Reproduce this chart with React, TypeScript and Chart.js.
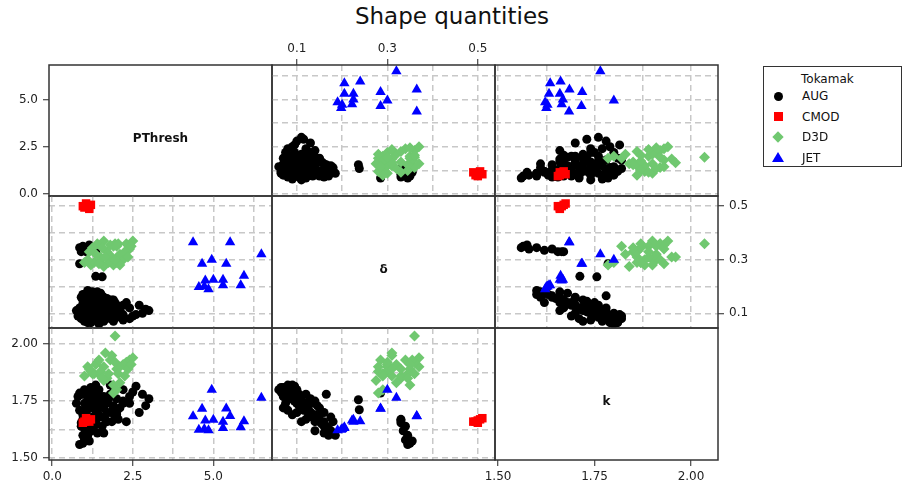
import { useEffect, useRef } from "react";
import { Chart, registerables } from "chart.js";

Chart.register(...registerables);

const TITLE = "Shape quantities";
const LEGEND_TITLE = "Tokamak";
const VARIABLE_NAMES = ["PThresh", "δ", "k"];

// ASDEX Upgrade
const AUG_PTHRESH = [
  1.0, 1.2, 0.9, 1.4, 1.6, 1.8, 2.0, 2.2, 2.5, 2.8,
  3.0, 2.9, 2.6, 2.4, 2.7, 2.3, 1.1, 1.3, 1.5, 1.7,
  1.9, 2.1, 1.0, 1.2, 1.4, 1.6, 1.8, 2.0, 0.85, 1.05,
  1.25, 1.45, 1.65, 1.85, 0.95, 1.15, 1.35, 1.55, 1.0, 1.2,
  1.4, 1.1, 0.9, 1.3, 1.5, 1.75, 0.8, 0.75, 2.2, 1.95,
  1.1, 1.35, 1.9, 2.4, 1.3, 1.7, 2.05, 1.25, 0.95, 1.45,
  1.2, 1.5, 1.0, 1.8, 1.4, 1.1, 1.6, 1.3, 1.9, 1.05,
  1.5, 1.25, 0.95, 1.7, 2.0, 1.35, 1.15, 1.6, 2.2, 0.9,
  0.85, 0.95, 1.0, 1.1, 1.2, 1.3, 0.9, 1.05, 1.15, 1.35,
  0.85, 1.35, 1.55,
];
const AUG_DELTA = [
  0.07, 0.065, 0.08, 0.075, 0.07, 0.08, 0.085, 0.075, 0.09, 0.1,
  0.11, 0.115, 0.095, 0.12, 0.13, 0.14, 0.09, 0.095, 0.085, 0.1,
  0.105, 0.11, 0.1, 0.11, 0.115, 0.12, 0.125, 0.13, 0.12, 0.13,
  0.135, 0.14, 0.145, 0.15, 0.15, 0.155, 0.16, 0.165, 0.17, 0.175,
  0.18, 0.185, 0.16, 0.125, 0.105, 0.09, 0.09, 0.11, 0.095, 0.14,
  0.065, 0.08, 0.07, 0.08, 0.165, 0.155, 0.12, 0.145, 0.135, 0.06,
  0.07, 0.075, 0.08, 0.09, 0.1, 0.12, 0.13, 0.14, 0.15, 0.16,
  0.175, 0.18, 0.17, 0.11, 0.1, 0.09, 0.14, 0.16, 0.13, 0.105,
  0.345, 0.35, 0.34, 0.345, 0.335, 0.34, 0.33, 0.33, 0.355, 0.33,
  0.285, 0.238, 0.236,
];
const AUG_KAPPA = [
  1.8, 1.81, 1.78, 1.79, 1.77, 1.78, 1.76, 1.8, 1.79, 1.78,
  1.76, 1.73, 1.815, 1.74, 1.7, 1.66, 1.76, 1.75, 1.77, 1.74,
  1.73, 1.72, 1.74, 1.73, 1.71, 1.72, 1.7, 1.69, 1.71, 1.7,
  1.68, 1.69, 1.67, 1.66, 1.67, 1.65, 1.66, 1.64, 1.63, 1.62,
  1.61, 1.6, 1.64, 1.72, 1.75, 1.76, 1.77, 1.74, 1.75, 1.68,
  1.79, 1.82, 1.81, 1.77, 1.78, 1.7, 1.67, 1.73, 1.69, 1.8,
  1.72, 1.74, 1.71, 1.82, 1.8, 1.78, 1.76, 1.75, 1.72, 1.7,
  1.68, 1.66, 1.6, 1.66, 1.7, 1.69, 1.62, 1.61, 1.74, 1.78,
  1.56, 1.565, 1.58, 1.6, 1.62, 1.64, 1.655, 1.665, 1.575, 1.67,
  1.785, 1.712, 1.756,
];

// Alcator C-Mod
const CMOD_PTHRESH = [1.0, 1.1, 1.2, 1.05, 0.95, 1.15];
const CMOD_DELTA = [0.495, 0.5, 0.505, 0.51, 0.5, 0.49];
const CMOD_KAPPA = [1.66, 1.665, 1.67, 1.675, 1.655, 1.66];

// DIII-D
const D3D_PTHRESH = [
  1.95, 1.2, 1.3, 1.1, 1.5, 1.7, 1.9, 2.0, 1.9, 2.1,
  2.3, 2.4, 2.5, 2.2, 1.6, 1.4, 1.8, 2.0, 1.5, 1.75,
  1.6, 1.35, 2.25, 1.85, 2.1, 1.25, 1.65, 2.35, 1.0, 1.45,
  2.45, 1.15, 2.05, 1.55, 1.95,
];
const D3D_DELTA = [
  0.36, 0.28, 0.29, 0.3, 0.31, 0.33, 0.35, 0.29, 0.28, 0.32,
  0.36, 0.34, 0.37, 0.3, 0.37, 0.36, 0.355, 0.35, 0.3, 0.29,
  0.275, 0.32, 0.33, 0.31, 0.28, 0.345, 0.31, 0.31, 0.29, 0.285,
  0.35, 0.33, 0.36, 0.345, 0.3,
];
const D3D_KAPPA = [
  2.035, 1.88, 1.87, 1.9, 1.86, 1.85, 1.82, 1.8, 1.785, 1.83,
  1.92, 1.93, 1.94, 1.91, 1.9, 1.92, 1.93, 1.89, 1.88, 1.87,
  1.84, 1.91, 1.86, 1.95, 1.9, 1.87, 1.96, 1.89, 1.86, 1.93,
  1.91, 1.89, 1.87, 1.85, 1.92,
];

// JET
const JET_PTHRESH = [6.49, 4.37, 5.52, 4.95, 5.4, 4.65, 5.95, 5.85, 5.3, 5.3, 5.0, 4.85, 4.72, 4.75, 4.55];
const JET_DELTA = [0.32, 0.365, 0.365, 0.3, 0.285, 0.285, 0.24, 0.205, 0.225, 0.205, 0.225, 0.19, 0.2, 0.222, 0.198];
const JET_KAPPA = [1.765, 1.684, 1.685, 1.8, 1.718, 1.716, 1.662, 1.635, 1.66, 1.632, 1.668, 1.622, 1.628, 1.665, 1.625];

// Axis ranges, grid positions and labelled ticks for each variable
const PTHRESH_RANGE = [-0.1, 6.82];
const PTHRESH_GRID = [0, 1.25, 2.5, 3.75, 5, 6.25];
const PTHRESH_TICKS = [0, 2.5, 5];
const DELTA_RANGE = [0.045, 0.538];
const DELTA_GRID = [0.1, 0.2, 0.3, 0.4, 0.5];
const DELTA_TICKS = [0.1, 0.3, 0.5];
const KAPPA_RANGE = [1.492, 2.07];
const KAPPA_GRID = [1.5, 1.625, 1.75, 1.875, 2.0];
const KAPPA_TICKS = [1.5, 1.75, 2.0];

const AXES = [
  { min: PTHRESH_RANGE[0], max: PTHRESH_RANGE[1], grid: PTHRESH_GRID, labels: PTHRESH_TICKS, decimals: 1 },
  { min: DELTA_RANGE[0], max: DELTA_RANGE[1], grid: DELTA_GRID, labels: DELTA_TICKS, decimals: 1 },
  { min: KAPPA_RANGE[0], max: KAPPA_RANGE[1], grid: KAPPA_GRID, labels: KAPPA_TICKS, decimals: 2 },
];

const SERIES = [
  { name: "AUG", values: [AUG_PTHRESH, AUG_DELTA, AUG_KAPPA], color: "#000000", style: "circle", radius: 4.5, order: 4 },
  { name: "CMOD", values: [CMOD_PTHRESH, CMOD_DELTA, CMOD_KAPPA], color: "#ff0000", style: "rect", radius: 6, order: 3 },
  { name: "D3D", values: [D3D_PTHRESH, D3D_DELTA, D3D_KAPPA], color: "#70c870", style: "rectRot", radius: 5.5, order: 2 },
  { name: "JET", values: [JET_PTHRESH, JET_DELTA, JET_KAPPA], color: "#0000ff", style: "triangle", radius: 6, order: 1 },
];

const FONT = "'DejaVu Sans', Verdana, sans-serif";
const COL_EDGES = [49, 272, 495, 718];
const ROW_EDGES = [65, 196, 328, 460];
const MARGIN = 45;

type Side = "left" | "right" | "top" | "bottom";
const TICK_PADDING: Record<Side, number> = { left: 5, right: 5, top: 3, bottom: 4 };

function buildAxis(v: number, side: Side, labeled: boolean, showGrid: boolean) {
  const axis = AXES[v];
  const vertical = side === "left" || side === "right";
  const isLabel = (value: number) => axis.labels.some((l) => Math.abs(l - value) < 1e-6);
  return {
    type: "linear",
    position: side,
    min: axis.min,
    max: axis.max,
    afterBuildTicks: (scale: any) => {
      scale.ticks = axis.grid.map((value) => ({ value }));
    },
    afterFit: (scale: any) => {
      if (vertical) scale.width = labeled ? MARGIN : 0;
      else scale.height = labeled ? MARGIN : 0;
    },
    ticks: {
      display: labeled,
      autoSkip: false,
      maxRotation: 0,
      minRotation: 0,
      padding: TICK_PADDING[side],
      color: "#222222",
      font: { family: FONT, size: 12 },
      callback: (value: any) => (isLabel(Number(value)) ? Number(value).toFixed(axis.decimals) : ""),
    },
    grid: {
      display: true,
      drawOnChartArea: showGrid,
      drawTicks: labeled,
      tickLength: 6,
      tickWidth: 1,
      tickColor: (ctx: any) => (ctx.tick && isLabel(ctx.tick.value) ? "#222222" : "rgba(0,0,0,0)"),
      tickBorderDash: [],
      color: "#c8c8c8",
      lineWidth: 1.5,
    },
    border: { display: false, dash: [6, 4] },
  };
}

const framePlugin = {
  id: "panelFrame",
  afterDraw(chart: any) {
    const { ctx, chartArea: a } = chart;
    ctx.save();
    ctx.strokeStyle = "#333333";
    ctx.lineWidth = 1.5;
    ctx.strokeRect(a.left, a.top, a.right - a.left, a.bottom - a.top);
    ctx.restore();
  },
};

function Panel({ row, col }: { row: number; col: number }) {
  const ref = useRef<HTMLCanvasElement>(null);
  const x0 = COL_EDGES[col];
  const y0 = ROW_EDGES[row];
  const w = COL_EDGES[col + 1] - x0;
  const h = ROW_EDGES[row + 1] - y0;

  useEffect(() => {
    const diagonal = row === col;
    let xSide: Side | null = null;
    if (row === 0 && col === 1) xSide = "top";
    if (row === 2 && (col === 0 || col === 2)) xSide = "bottom";
    let ySide: Side | null = null;
    if (col === 0 && (row === 0 || row === 2)) ySide = "left";
    if (col === 2 && row === 1) ySide = "right";

    const datasets = diagonal
      ? []
      : SERIES.map((s) => ({
          label: s.name,
          data: s.values[col].map((x, i) => ({ x, y: s.values[row][i] })),
          pointStyle: s.style,
          pointRadius: s.radius,
          backgroundColor: s.color,
          borderColor: s.color,
          borderWidth: 0,
          order: s.order,
          clip: 0,
        }));

    const chart = new Chart(ref.current as HTMLCanvasElement, {
      type: "scatter",
      data: { datasets } as any,
      options: {
        animation: false,
        responsive: false,
        devicePixelRatio: 1,
        events: [],
        layout: {
          padding: {
            left: ySide === "left" ? 0 : MARGIN,
            right: ySide === "right" ? 0 : MARGIN,
            top: xSide === "top" ? 0 : MARGIN,
            bottom: xSide === "bottom" ? 0 : MARGIN,
          },
        },
        plugins: { legend: { display: false }, tooltip: { enabled: false } },
        scales: {
          x: buildAxis(col, xSide ?? "bottom", xSide !== null, !diagonal),
          y: buildAxis(row, ySide ?? "left", ySide !== null, !diagonal),
        } as any,
      },
      plugins: [framePlugin],
    });
    return () => chart.destroy();
  }, [row, col]);

  return (
    <canvas
      ref={ref}
      width={w + 2 * MARGIN}
      height={h + 2 * MARGIN}
      style={{ position: "absolute", left: x0 - MARGIN, top: y0 - MARGIN, width: w + 2 * MARGIN, height: h + 2 * MARGIN }}
    />
  );
}

function LegendMarker({ style, color }: { style: string; color: string }) {
  const base: any = { position: "absolute", left: 14, top: 8 };
  if (style === "circle")
    return <div style={{ ...base, width: 9, height: 9, marginLeft: -4.5, marginTop: -4.5, borderRadius: "50%", background: color }} />;
  if (style === "rect")
    return <div style={{ ...base, width: 9, height: 9, marginLeft: -4.5, marginTop: -4.5, background: color }} />;
  if (style === "rectRot")
    return (
      <div style={{ ...base, width: 8, height: 8, marginLeft: -4, marginTop: -4, background: color, transform: "rotate(45deg)" }} />
    );
  return (
    <div
      style={{
        ...base,
        width: 0,
        height: 0,
        marginLeft: -6,
        marginTop: -6,
        borderLeft: "6px solid transparent",
        borderRight: "6px solid transparent",
        borderBottom: `10px solid ${color}`,
      }}
    />
  );
}

export default function App() {
  const cells: { row: number; col: number }[] = [];
  for (let r = 0; r < 3; r++) for (let c = 0; c < 3; c++) cells.push({ row: r, col: c });

  return (
    <div
      style={{
        position: "fixed",
        left: 0,
        top: 0,
        width: 910,
        height: 487,
        background: "#ffffff",
        overflow: "hidden",
        fontFamily: FONT,
        color: "#111111",
      }}
    >
      <div style={{ position: "absolute", left: 0, top: 3, width: 904, textAlign: "center", fontSize: 23, lineHeight: "26px" }}>
        {TITLE}
      </div>
      {cells.map((c) => (
        <Panel key={`${c.row}-${c.col}`} row={c.row} col={c.col} />
      ))}
      {VARIABLE_NAMES.map((name, i) => (
        <div
          key={name}
          style={{
            position: "absolute",
            left: (COL_EDGES[i] + COL_EDGES[i + 1]) / 2,
            top: (ROW_EDGES[i] + ROW_EDGES[i + 1]) / 2 + 7,
            transform: "translate(-50%, -50%)",
            fontWeight: "bold",
            fontSize: 12,
            whiteSpace: "nowrap",
          }}
        >
          {name}
        </div>
      ))}
      <div
        style={{
          position: "absolute",
          left: 763,
          top: 66,
          width: 139,
          height: 101,
          border: "1px solid #333333",
          boxSizing: "border-box",
          fontSize: 12,
        }}
      >
        <div style={{ position: "absolute", left: 37, top: 4, lineHeight: "16px" }}>{LEGEND_TITLE}</div>
        {SERIES.map((s, i) => (
          <div key={s.name} style={{ position: "absolute", left: 0, top: 21 + i * 20.5, width: "100%", height: 16 }}>
            <LegendMarker style={s.style} color={s.color} />
            <span style={{ position: "absolute", left: 38, top: 0, lineHeight: "16px" }}>{s.name}</span>
          </div>
        ))}
      </div>
    </div>
  );
}
